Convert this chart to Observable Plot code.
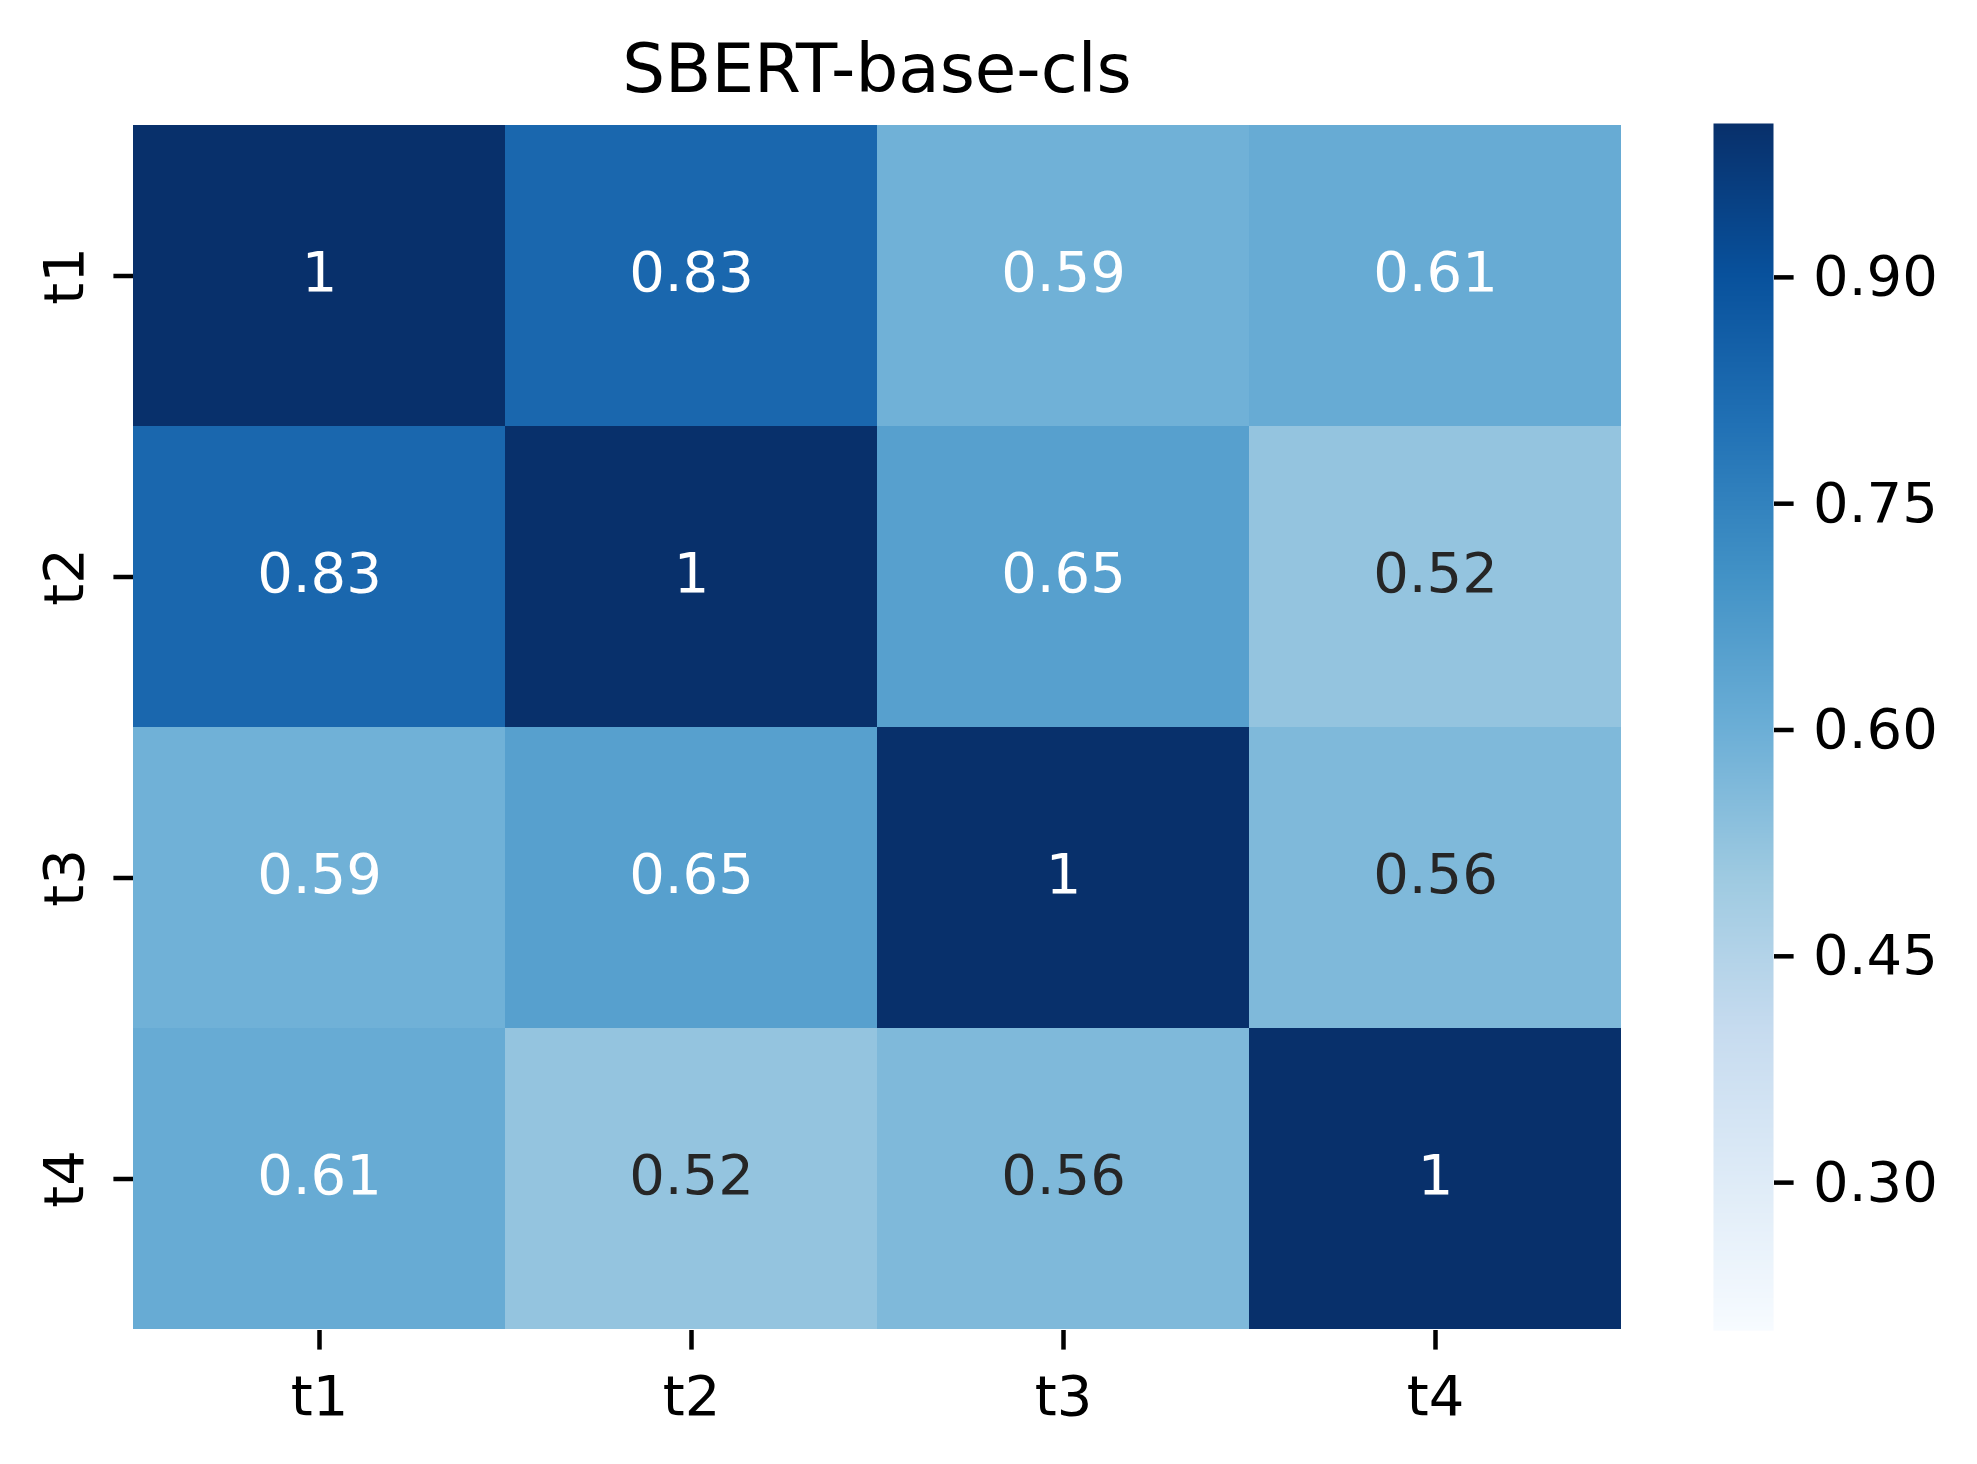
<!DOCTYPE html>
<html>
<head>
<meta charset="utf-8">
<script src="https://cdn.jsdelivr.net/npm/d3@7"></script>
<script src="https://cdn.jsdelivr.net/npm/@observablehq/plot@0.6"></script>
<style>
  html, body { margin: 0; padding: 0; background: #ffffff; color: #000000; }
  #wrap { position: relative; width: 1977px; height: 1464px; font-family: "DejaVu Sans", sans-serif; }
  #title { position: absolute; left: 133px; top: 0; width: 1488px; height: 100px; box-sizing: border-box;
           padding-top: 35px; font-size: 67.5px; line-height: 67.5px; text-align: center; color: #000; }
  #main { position: absolute; left: 0; top: 100px; }
  #cbar { position: absolute; left: 1713px; top: 100px; }
  svg { overflow: visible; }
</style>
</head>
<body>
<div id="wrap">
  <div id="title">SBERT-base-cls</div>
  <div id="main"></div>
  <div id="cbar"></div>
</div>
<script>
// ---- data ----
const rowLabels = ["t1", "t2", "t3", "t4"];
const colLabels = ["t1", "t2", "t3", "t4"];
const values = [
  [1.00, 0.83, 0.59, 0.61],
  [0.83, 1.00, 0.65, 0.52],
  [0.59, 0.65, 1.00, 0.56],
  [0.61, 0.52, 0.56, 1.00]
];
const colorbarTicks = [0.30, 0.45, 0.60, 0.75, 0.90];
const colorDomain = [0.2, 1.0];

// matplotlib "Blues" (ColorBrewer 9-class, linear RGB interpolation)
const blues9 = ["#f7fbff","#deebf7","#c6dbef","#9ecae1","#6baed6","#4292c6","#2171b5","#08519c","#08306b"];
const stops = blues9.map((_, i) => colorDomain[0] + (colorDomain[1] - colorDomain[0]) * i / (blues9.length - 1));
const colorScale = { type: "linear", domain: stops, range: blues9, interpolate: "rgb", clamp: true };
const cmap = d3.scaleLinear().domain(stops).range(blues9).interpolate(d3.interpolateRgb).clamp(true);

function luminance(v) {
  const c = d3.rgb(cmap(v));
  const lin = x => { x /= 255; return x <= 0.03928 ? x / 12.92 : Math.pow((x + 0.055) / 1.055, 2.4); };
  return 0.2126 * lin(c.r) + 0.7152 * lin(c.g) + 0.0722 * lin(c.b);
}

const cells = rowLabels.flatMap((r, i) => colLabels.map((c, j) => ({ row: r, col: c, value: values[i][j] })));
const fmt = d3.format(".2~g");
const lightCells = cells.filter(d => luminance(d.value) > 0.408);
const darkCells = cells.filter(d => luminance(d.value) <= 0.408);

const FS = 56;
const main = Plot.plot({
  width: 1977, height: 1364,
  marginLeft: 133, marginRight: 356, marginTop: 23, marginBottom: 134,
  style: { fontFamily: "DejaVu Sans", background: "transparent", color: "#000" },
  x: { domain: colLabels, padding: 0, label: null },
  y: { domain: rowLabels, padding: 0, label: null },
  color: colorScale,
  marks: [
    Plot.cell(cells, { x: "col", y: "row", fill: "value", inset: 0 }),
    Plot.text(darkCells, { x: "col", y: "row", text: d => fmt(d.value), fill: "#ffffff", fontSize: FS, dy: -3 }),
    Plot.text(lightCells, { x: "col", y: "row", text: d => fmt(d.value), fill: "#262626", fontSize: FS, dy: -3 }),
    Plot.axisX({ tickSize: 19.6, tickPadding: 25, fontSize: FS, strokeWidth: 4.5, label: null }),
    Plot.axisY({ tickSize: 19.6, strokeWidth: 4.5, tickFormat: () => "", label: null }),
    Plot.axisY({ tickSize: 0, tickPadding: 50.6, fontSize: FS, label: null,
                 rotate: -90, textAnchor: "middle", lineAnchor: "bottom" })
  ]
});
document.getElementById("main").appendChild(main);

let barMark;
if (typeof Plot.raster === "function") {
  barMark = Plot.raster({ x1: 0, x2: 1, y1: colorDomain[0], y2: colorDomain[1], fill: (x, y) => y, pixelSize: 1 });
} else {
  const steps = d3.range(colorDomain[0], colorDomain[1], 0.002);
  barMark = Plot.rect(steps, { x1: 0, x2: 1, y1: d => d, y2: d => Math.min(d + 0.0025, colorDomain[1]), fill: d => d });
}

const cbar = Plot.plot({
  width: 264, height: 1364,
  marginLeft: 0, marginRight: 204, marginTop: 23, marginBottom: 134,
  style: { fontFamily: "DejaVu Sans", background: "transparent", color: "#000" },
  x: { domain: [0, 1], axis: null },
  y: { domain: colorDomain, label: null },
  color: colorScale,
  marks: [
    barMark,
    Plot.axisY({ anchor: "right", ticks: colorbarTicks, tickFormat: d3.format(".2f"),
                 tickSize: 19.6, tickPadding: 20, fontSize: FS, strokeWidth: 4.5, label: null, dy: 3 })
  ]
});
document.getElementById("cbar").appendChild(cbar);
</script>
</body>
</html>
